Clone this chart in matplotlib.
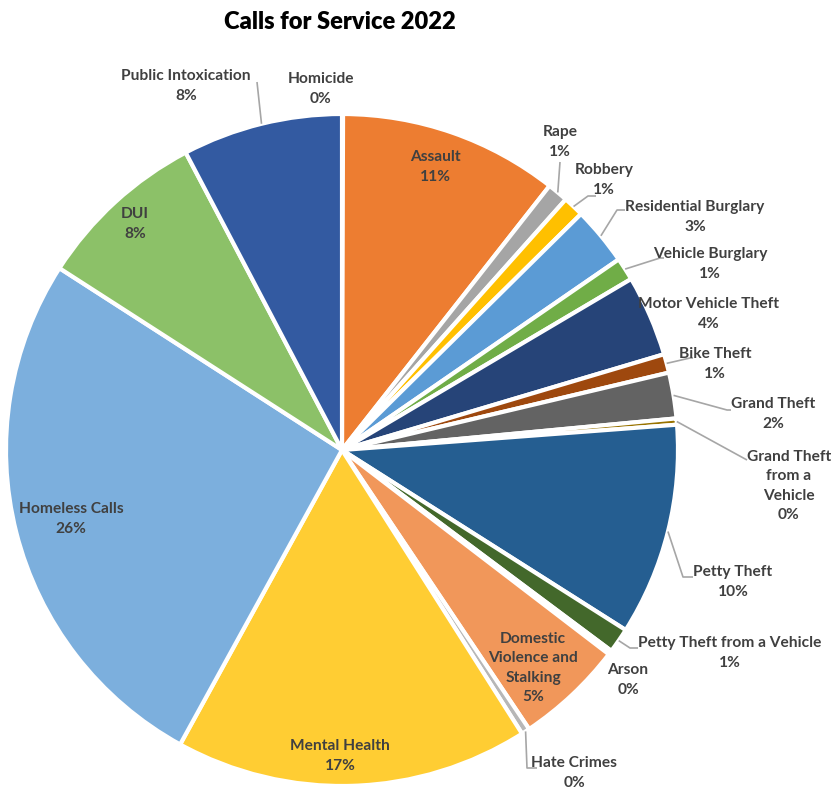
import numpy as np
import matplotlib
matplotlib.use('Agg')
import matplotlib.pyplot as plt

W, H = 831, 789

CATEGORIES = ['Homicide', 'Assault', 'Rape', 'Robbery', 'Residential Burglary',
              'Vehicle Burglary', 'Motor Vehicle Theft', 'Bike Theft', 'Grand Theft',
              'Grand Theft from a Vehicle', 'Petty Theft', 'Petty Theft from a Vehicle',
              'Arson', 'Domestic Violence and Stalking', 'Hate Crimes', 'Mental Health',
              'Homeless Calls', 'DUI', 'Public Intoxication']
SHARES = [0.05, 10.55, 1.0, 1.0, 2.8, 1.1, 3.9, 0.9, 2.2, 0.3, 10.2, 1.2,
          0.2, 5.2, 0.4, 17.0, 26.1, 8.2, 7.7]
LABEL_TEXT = ['Homicide', 'Assault', 'Rape', 'Robbery', 'Residential Burglary',
              'Vehicle Burglary', 'Motor Vehicle Theft', 'Bike Theft', 'Grand Theft',
              'Grand Theft\nfrom a\nVehicle', 'Petty Theft', 'Petty Theft from a Vehicle',
              'Arson', 'Domestic\nViolence and\nStalking', 'Hate Crimes', 'Mental Health',
              'Homeless Calls', 'DUI', 'Public Intoxication']
COLORS = ['#4472C4', '#ED7D31', '#A5A5A5', '#FFC000', '#5B9BD5', '#70AD47',
          '#264478', '#9E480E', '#636363', '#997300', '#255E91', '#43682B',
          '#698ED0', '#F1975A', '#B7B7B7', '#FFCD33', '#7CAFDD', '#8CC168', '#335AA1']

# label centre (px, from top-left) and optional leader path (elbow points, px)
LABEL_POS = [(321, 89), (435, 167), (560, 142), (604, 180), (695, 217),
             (710, 264), (709, 314), (715, 364), (773, 414), (789, 486),
             (733, 582), (730, 653), (628, 680), (533, 668), (574, 773),
             (340, 756), (71, 519), (135, 224), (186, 86)]
LEADERS = {
    2: [(560, 162)],
    3: [(588, 196), (596, 196)],
    4: [(617, 210), (625, 210)],
    5: [(660, 258), (664, 258)],
    7: [(690, 358), (693, 358)],
    8: [(727, 410), (731, 410)],
    9: [(747, 460)],
    10: [(683, 577), (693, 577)],
    11: [(630, 648), (638, 648)],
    14: [(527, 768), (537, 768)],
    18: [(257, 82)],
}

CX, CY, R = 342, 450, 336

plt.rcParams['font.family'] = ['Lato', 'DejaVu Sans']

fig = plt.figure(figsize=(W / 100, H / 100), dpi=100)
ax = fig.add_axes([0, 0, 1, 1])


def px(x, y):
    return x, H - y


wedges, _ = ax.pie(SHARES, colors=COLORS, startangle=90, counterclock=False,
                   center=px(CX, CY), radius=R,
                   wedgeprops=dict(edgecolor='white', linewidth=3))
# pie() resets the limits, so fix them afterwards
ax.set_xlim(0, W)
ax.set_ylim(0, H)
ax.set_aspect('equal')
ax.axis('off')

total = sum(SHARES)
for i, (name, val) in enumerate(zip(LABEL_TEXT, SHARES)):
    txt = f'{name}\n{val / total * 100:.0f}%'
    lx, ly = LABEL_POS[i]
    ax.text(*px(lx, ly), txt, ha='center', va='center', fontsize=11.2,
            fontweight='bold', color='#404040', linespacing=1.5)
    if i in LEADERS:
        w = wedges[i]
        mid = np.deg2rad((w.theta1 + w.theta2) / 2)
        x0 = CX + R * np.cos(mid)
        y0 = CY - R * np.sin(mid)
        pts = [(x0, y0)] + LEADERS[i]
        xs = [p[0] for p in pts]
        ys = [H - p[1] for p in pts]
        ax.plot(xs, ys, color='#A6A6A6', linewidth=1.2, solid_capstyle='butt')

ax.text(*px(340, 22), 'Calls for Service 2022', ha='center', va='center',
        fontsize=17, fontweight='heavy', color='black')

fig.savefig('out.png', dpi=100)
